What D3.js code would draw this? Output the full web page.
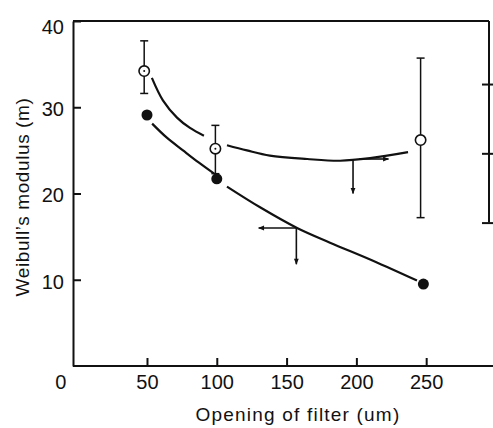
<!DOCTYPE html>
<html>
<head>
<meta charset="utf-8">
<script src="https://cdn.jsdelivr.net/npm/d3@7"></script>
<style>
  body { margin: 0; background: #fff; }
  svg { display: block; font-family: "Liberation Sans", Arial, sans-serif; }
  .axis text { font-size: 20px; fill: #111; }
  .axis line, .axis path { stroke: #111; stroke-width: 2; }
</style>
</head>
<body>
<svg class="chart" width="493" height="428"></svg>
<script>
"use strict";

// x tick labels (filter opening, um) and y ticks (Weibull modulus)
var xTicks = [0, 50, 100, 150, 200, 250];
var yTicks = [10, 20, 30, 40];
var rightTicks = [10, 20, 30];

// open circles with error bars
var openX = [48, 99, 246];
var openY = [34.2, 25.2, 26.2];
var openHi = [37.7, 27.9, 35.7];
var openLo = [31.6, 22.3, 17.2];
var openDot = [true, true, false];

// filled circles
var filledX = [50, 100, 248];
var filledY = [29.1, 21.7, 9.5];

// hand drawn fit curves (segments broken at the points)
var openFitA = [[53.5, 33.4], [61.4, 30.8], [71.5, 28.8], [80.8, 27.6], [90.8, 26.7]];
var openFitB = [[107.3, 25.6], [121.6, 25.0], [138, 24.4], [164.7, 24.0], [188.3, 23.8], [209.8, 24.1], [237, 24.8]];
var filledFitA = [[53.7, 28.1], [64, 26.5], [75.8, 25.0], [87, 23.6], [98.1, 22.3]];
var filledFitB = [[107.3, 20.8], [131, 18.4], [157.5, 16.0], [181.1, 14.3], [211.9, 12.2], [243.4, 9.9]];

// pointer arrows: [from, to]
var arrows = [
    [[157, 16.0], [130, 16.0]],
    [[157, 16.0], [157, 11.8]],
    [[197.6, 24.0], [197.6, 20.0]],
    [[202, 24.0], [223, 24.0]]
];

function drawChart() {
    var svg = d3.select("svg.chart");
    var W = +svg.attr("width");
    var left = 73, right = 489, top = 21, bottom = 366;

    var x = d3.scaleLinear().domain([-3, 295]).range([left, right]);
    var y = d3.scaleLinear().domain([0, 40]).range([bottom, top]);
    var yR = d3.scaleLinear().domain([-10.7, 39.1]).range([bottom, top]);

    var defs = svg.append("defs");
    defs.append("marker").attr("id", "head").attr("viewBox", "0 0 10 10")
        .attr("refX", 9).attr("refY", 5).attr("markerWidth", 7).attr("markerHeight", 6)
        .attr("markerUnits", "userSpaceOnUse").attr("orient", "auto")
        .append("path").attr("d", "M0,1 L10,5 L0,9 Z").attr("fill", "#111");

    // bottom axis
    var gx = svg.append("g").attr("class", "axis axis--x").attr("transform", "translate(0," + bottom + ")")
        .call(d3.axisBottom(x).tickValues(xTicks).tickSizeInner(-8).tickSizeOuter(0).tickPadding(9).tickFormat(d3.format("d")));
    gx.select(".domain").remove();
    gx.append("line").attr("x1", left).attr("x2", W).attr("y1", 0).attr("y2", 0);
    gx.selectAll(".tick").filter(function (d) { return d === 0; })
        .call(function (t) {
            t.select("line").remove();
            t.select("text").attr("dx", -17);
        });

    // left axis
    var gy = svg.append("g").attr("class", "axis axis--y").attr("transform", "translate(" + left + ",0)")
        .call(d3.axisLeft(y).tickValues(yTicks).tickSizeInner(-8).tickSizeOuter(0).tickPadding(9));
    gy.selectAll(".tick text").attr("dy", "0.42em");
    gy.selectAll(".tick").filter(function (d) { return d === 40; }).select("text").attr("dy", "0.6em");

    // top frame and short right axis
    svg.append("line").attr("x1", left).attr("x2", right).attr("y1", top).attr("y2", top)
        .attr("stroke", "#111").attr("stroke-width", 2);
    var gr = svg.append("g").attr("class", "axis axis--r").attr("transform", "translate(" + right + ",0)")
        .call(d3.axisRight(yR).tickValues(rightTicks).tickSizeInner(-7).tickSizeOuter(0).tickFormat(""));
    gr.select(".domain").remove();
    gr.selectAll(".tick line").attr("x2", 4).attr("x1", -7);
    gr.append("line").attr("x1", 0).attr("x2", 0).attr("y1", top).attr("y2", yR(10));

    // axis titles
    svg.append("text").attr("x", 298).attr("y", 421)
        .attr("text-anchor", "middle").attr("font-size", 19).attr("letter-spacing", "1.2px").attr("fill", "#111")
        .text("Opening of filter (um)");
    svg.append("text").attr("transform", "translate(29," + 197 + ") rotate(-90)")
        .attr("text-anchor", "middle").attr("font-size", 19).attr("letter-spacing", "0.6px").attr("fill", "#111")
        .text("Weibull\u2019s modulus (m)");

    // fit curves
    var line = d3.line().curve(d3.curveCatmullRom.alpha(0.5))
        .x(function (d) { return x(d[0]); })
        .y(function (d) { return y(d[1]); });
    [openFitA, openFitB, filledFitA, filledFitB].forEach(function (pts) {
        svg.append("path").datum(pts).attr("d", line)
            .attr("fill", "none").attr("stroke", "#111").attr("stroke-width", 2.2);
    });

    // arrows
    svg.selectAll(".arrow").data(arrows).enter().append("line").attr("class", "arrow")
        .attr("x1", function (d) { return x(d[0][0]); })
        .attr("y1", function (d) { return y(d[0][1]); })
        .attr("x2", function (d) { return x(d[1][0]); })
        .attr("y2", function (d) { return y(d[1][1]); })
        .attr("stroke", "#111").attr("stroke-width", 1.6).attr("marker-end", "url(#head)");

    // error bars
    var open = openX.map(function (d, i) {
        return { x: d, y: openY[i], hi: openHi[i], lo: openLo[i], dot: openDot[i] };
    });
    var eb = svg.selectAll(".err").data(open).enter().append("g").attr("class", "err")
        .attr("stroke", "#111").attr("stroke-width", 1.5);
    eb.append("line")
        .attr("x1", function (d) { return x(d.x); }).attr("x2", function (d) { return x(d.x); })
        .attr("y1", function (d) { return y(d.hi); }).attr("y2", function (d) { return y(d.lo); });
    eb.append("line")
        .attr("x1", function (d) { return x(d.x) - 4; }).attr("x2", function (d) { return x(d.x) + 4; })
        .attr("y1", function (d) { return y(d.hi); }).attr("y2", function (d) { return y(d.hi); });
    eb.append("line")
        .attr("x1", function (d) { return x(d.x) - 4; }).attr("x2", function (d) { return x(d.x) + 4; })
        .attr("y1", function (d) { return y(d.lo); }).attr("y2", function (d) { return y(d.lo); });

    // filled points
    svg.selectAll(".filled").data(filledX).enter().append("circle").attr("class", "filled")
        .attr("cx", function (d) { return x(d); })
        .attr("cy", function (d, i) { return y(filledY[i]); })
        .attr("r", 5.5).attr("fill", "#111");

    // open points
    svg.selectAll(".open").data(open).enter().append("circle").attr("class", "open")
        .attr("cx", function (d) { return x(d.x); })
        .attr("cy", function (d) { return y(d.y); })
        .attr("r", 5.2).attr("fill", "#fff").attr("stroke", "#111").attr("stroke-width", 1.6);
    svg.selectAll(".odot").data(open.filter(function (d) { return d.dot; })).enter().append("circle")
        .attr("class", "odot")
        .attr("cx", function (d) { return x(d.x); })
        .attr("cy", function (d) { return y(d.y); })
        .attr("r", 1).attr("fill", "#111");
}

drawChart();
</script>
</body>
</html>
